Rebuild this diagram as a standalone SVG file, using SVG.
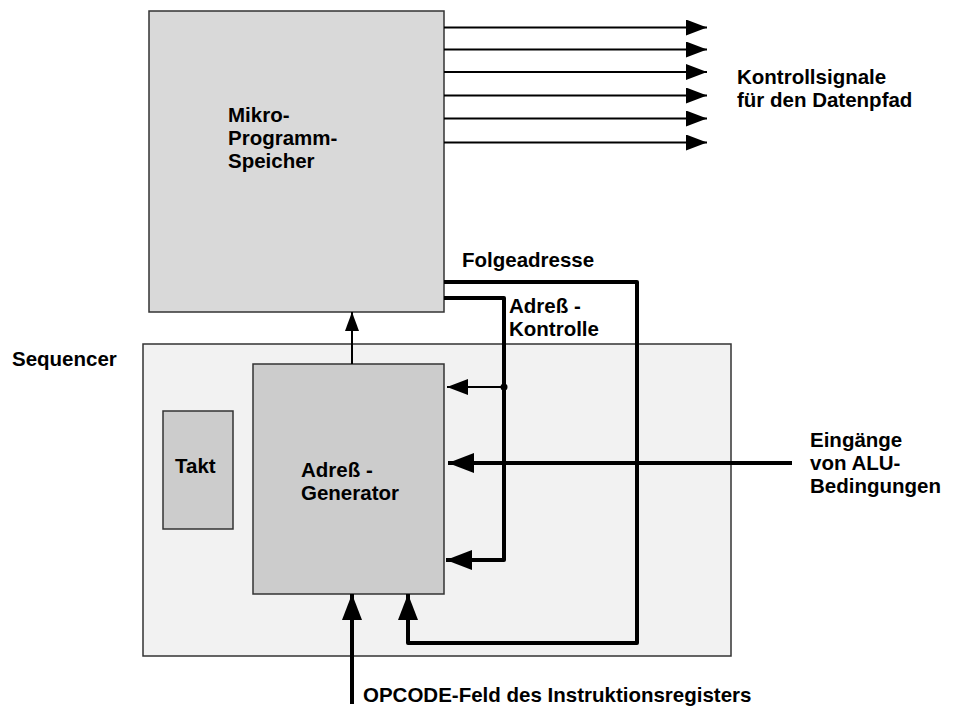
<svg xmlns="http://www.w3.org/2000/svg" width="955" height="706" viewBox="0 0 955 706">
<style>
text{font-family:"Liberation Sans",Arial,sans-serif;font-weight:bold;font-size:20.5px;fill:#000}
.box{stroke:#333;stroke-width:1.5}
.thin{stroke:#000;stroke-width:2;fill:none}
.thick{stroke:#000;stroke-width:4;fill:none;stroke-linejoin:round}
</style>
<defs>
<marker id="ah" markerUnits="userSpaceOnUse" viewBox="0 0 21 16" refX="21" refY="8" markerWidth="21" markerHeight="16" orient="auto">
<path d="M0,0 L21,8 L0,16 Z" fill="#000"/>
</marker>
<marker id="ahb" markerUnits="userSpaceOnUse" viewBox="0 0 26 20" refX="26" refY="10" markerWidth="26" markerHeight="20" orient="auto">
<path d="M0,0 L26,10 L0,20 Z" fill="#000"/>
</marker>
<marker id="ahs" markerUnits="userSpaceOnUse" viewBox="0 0 19 14" refX="19" refY="7" markerWidth="19" markerHeight="14" orient="auto">
<path d="M0,0 L19,7 L0,14 Z" fill="#000"/>
</marker>
</defs>
<g id="sequencer">
<rect class="box" x="143" y="344" width="588" height="312" fill="#f2f2f2"/>
<text x="12" y="366">Sequencer</text>
</g>
<g id="mikro">
<rect class="box" x="149" y="11" width="295" height="301" fill="#d9d9d9"/>
<text x="228" y="122">Mikro-</text>
<text x="228" y="145">Programm-</text>
<text x="228" y="168">Speicher</text>
</g>
<g id="takt">
<rect class="box" x="163" y="411" width="70" height="118" fill="#cccccc"/>
<text x="175" y="473">Takt</text>
</g>
<g id="generator">
<rect class="box" x="253" y="364" width="191" height="230" fill="#cccccc"/>
<text x="301" y="477">Adreß -</text>
<text x="301" y="500">Generator</text>
</g>
<g id="connectors">
<line class="thin" x1="444" y1="27.5" x2="707" y2="27.5" marker-end="url(#ah)"/>
<line class="thin" x1="444" y1="49.5" x2="707" y2="49.5" marker-end="url(#ah)"/>
<line class="thin" x1="444" y1="72" x2="707" y2="72" marker-end="url(#ah)"/>
<line class="thin" x1="444" y1="95.5" x2="707" y2="95.5" marker-end="url(#ah)"/>
<line class="thin" x1="444" y1="118.5" x2="707" y2="118.5" marker-end="url(#ah)"/>
<line class="thin" x1="444" y1="142.5" x2="707" y2="142.5" marker-end="url(#ah)"/>
<line class="thin" stroke-width="2.5" x1="352" y1="364" x2="352" y2="312" marker-end="url(#ahs)"/>
<polyline class="thick" points="444,282 637,282 637,643 408,643 408,594" marker-end="url(#ahb)"/>
<polyline class="thick" points="444,298 504,298 504,560 446,560" marker-end="url(#ahb)"/>
<line class="thin" stroke-width="2.5" x1="504" y1="387" x2="447" y2="387" marker-end="url(#ah)"/>
<circle cx="504" cy="387" r="3.5" fill="#000"/>
<line class="thick" x1="792" y1="463" x2="448" y2="463" marker-end="url(#ahb)"/>
<line class="thick" x1="352" y1="704" x2="352" y2="594" marker-end="url(#ahb)"/>
</g>
<g id="labels">
<text x="737" y="84">Kontrollsignale</text>
<text x="737" y="107">für den Datenpfad</text>
<text x="462" y="267">Folgeadresse</text>
<text x="509" y="313">Adreß -</text>
<text x="509" y="336">Kontrolle</text>
<text x="810" y="447">Eingänge</text>
<text x="810" y="470">von ALU-</text>
<text x="810" y="493">Bedingungen</text>
<text x="363" y="702">OPCODE-Feld des Instruktionsregisters</text>
</g>
</svg>
